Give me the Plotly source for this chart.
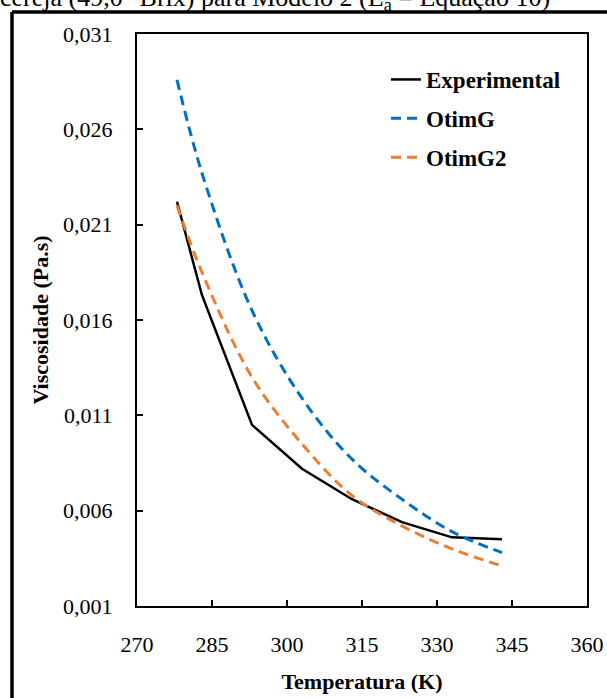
import plotly.graph_objects as go

temperatura = [278, 283, 293, 303, 313, 323, 333, 343]
experimental = [0.0222, 0.0173, 0.0105, 0.0082, 0.0066, 0.0054, 0.0046, 0.0045]
otimg = [0.0286, 0.0237, 0.0165, 0.0119, 0.0087, 0.0066, 0.0049, 0.0038]
otimg2 = [0.0220, 0.0185, 0.0130, 0.0095, 0.0068, 0.0052, 0.0040, 0.0031]

FONT = "Liberation Serif"

L, R, T, B = 137, 20, 34, 92
W, H = 607, 698
PW = W - L - R
PH = H - T - B

fig = go.Figure()
fig.add_trace(go.Scatter(x=temperatura, y=experimental, name="Experimental", mode="lines",
                         line=dict(color="black", width=2.5), legendgroup="a"))
fig.add_trace(go.Scatter(x=temperatura, y=otimg, name="OtimG", mode="lines",
                         line=dict(color="#0070C0", width=3, dash="10px,6px", shape="spline"),
                         legendgroup="b"))
fig.add_trace(go.Scatter(x=temperatura, y=otimg2, name="OtimG2", mode="lines",
                         line=dict(color="#ED7D31", width=3, dash="10px,6px", shape="spline"),
                         legendgroup="c"))

def px_x(p):
    return (p - L) / PW

def px_y(p):
    return (H - B - p) / PH

tickfont = dict(family=FONT, size=22, color="black")

fig.update_layout(
    width=W, height=H,
    margin=dict(l=L, r=R, t=T, b=B, autoexpand=False),
    paper_bgcolor="white", plot_bgcolor="white",
    separators=",.",
    font=dict(family=FONT, size=21, color="black"),
    showlegend=True,
    legend=dict(x=px_x(386), y=px_y(58), xanchor="left", yanchor="top",
                font=dict(family=FONT, size=23, color="black", weight="bold"),
                bgcolor="rgba(0,0,0,0)", tracegroupgap=6),
    xaxis=dict(range=[270, 360], dtick=15, tick0=270, ticks="inside", ticklen=6,
               tickwidth=1.5, tickcolor="black", showline=True, linecolor="black",
               linewidth=2, mirror=True, showgrid=False, zeroline=False, automargin=False,
               ticklabelstandoff=18, tickfont=tickfont,
               title=dict(text="<b>Temperatura (K)</b>", font=dict(family=FONT, size=22),
                          standoff=17)),
    yaxis=dict(range=[0.001, 0.031], dtick=0.005, tick0=0.001, ticks="inside", ticklen=6,
               tickwidth=1.5, tickcolor="black", showline=True, linecolor="black",
               linewidth=2, mirror=True, showgrid=False, zeroline=False, automargin=False,
               tickformat=".3f", ticklabelstandoff=18, tickfont=tickfont,
               title=dict(text="<b>Viscosidade (Pa.s)</b>", font=dict(family=FONT, size=22),
                          standoff=8)),
    shapes=[
        dict(type="line", xref="paper", yref="paper", x0=px_x(12), x1=px_x(12),
             y0=px_y(12), y1=px_y(720), line=dict(color="black", width=3.5)),
        dict(type="line", xref="paper", yref="paper", x0=px_x(12), x1=px_x(640),
             y0=px_y(12), y1=px_y(12), line=dict(color="black", width=3.5)),
    ],
    annotations=[
        dict(text="cereja (49,0 °Brix) para Modelo 2 (E<sub>a</sub> = Equação 10)",
             xref="paper", yref="paper", x=px_x(-2), y=px_y(-1), xanchor="left",
             yanchor="middle", showarrow=False, font=dict(family=FONT, size=26)),
    ],
)

fig.write_html("out.html", config={"displayModeBar": False},
               post_script="document.body.style.margin='0';document.body.style.overflow='hidden';")
